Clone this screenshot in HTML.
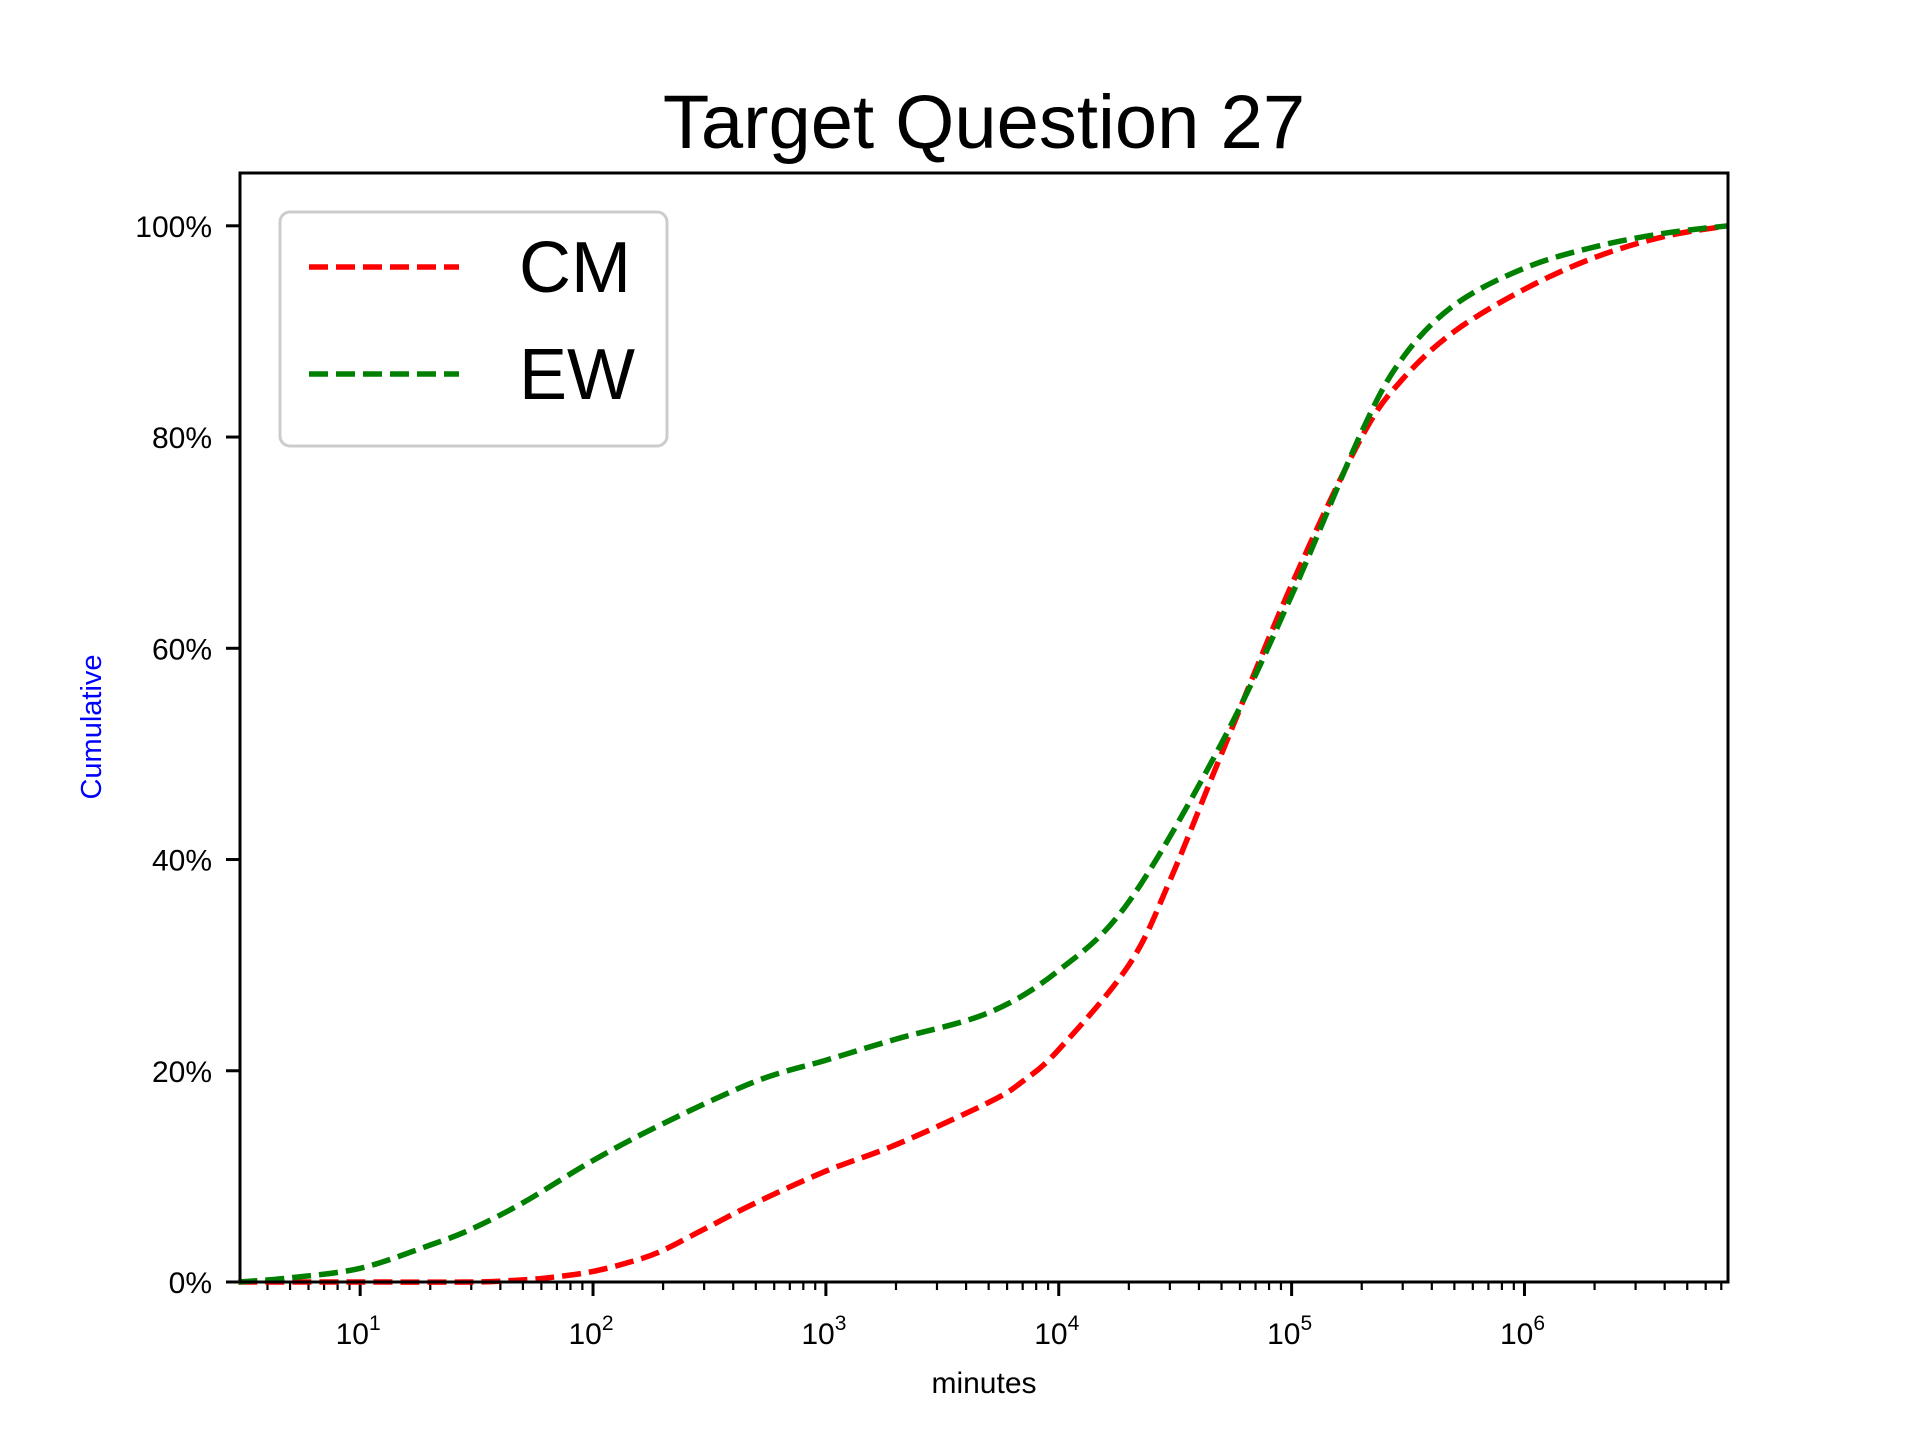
<!DOCTYPE html>
<html><head><meta charset="utf-8">
<style>
html,body{margin:0;padding:0;background:#fff;}
svg{display:block;font-family:"Liberation Sans",sans-serif;}
</style></head>
<body>
<svg id="chart" width="1920" height="1440" viewBox="0 0 1920 1440" xmlns="http://www.w3.org/2000/svg">
<rect x="0" y="0" width="1920" height="1440" fill="#fff"/>
<text x="984" y="148" font-size="76" text-anchor="middle" fill="#000">Target Question 27</text>
<g id="plot"></g>
<text x="984" y="1393" font-size="30" text-anchor="middle" fill="#000">minutes</text>
<text transform="translate(101,727) rotate(-90)" font-size="29" text-anchor="middle" fill="#0000ff">Cumulative</text>
</svg>
<script>
const cmX = [3,10,30,50,70,100,150,200,300,500,1000,2000,5000,7000,10000,20000,30000,50000,100000,200000,300000,500000,1e6,2e6,4e6,7.5e6];
const cmY = [0,0,0,0.2,0.5,1,2,3,5,7.5,10.5,13,17,19,22,30,38,50,66,80,85.5,90,94,97,99,100];
const ewX = [3,5,10,20,30,50,100,200,500,1000,2000,5000,10000,20000,50000,100000,200000,300000,500000,1e6,2e6,4e6,7.5e6];
const ewY = [0,0.4,1.3,3.5,5,7.5,11.5,15,19,21,23,25.5,29.5,36,51,65,80.5,87.5,92.5,96,98,99.3,100];
const yTicks = [0,20,40,60,80,100];
const xTickExps = [1,2,3,4,5,6];

const L=240,R=1728,T=173,B=1282;
const lxMin=0.484,lxMax=6.874,yMin=0,yMax=105;
const sx=v=>L+(Math.log10(v)-lxMin)/(lxMax-lxMin)*(R-L);
const sy=v=>B-(v-yMin)/(yMax-yMin)*(B-T);
const NS="http://www.w3.org/2000/svg";
const g=document.getElementById('plot');
function mk(tag,attrs){const e=document.createElementNS(NS,tag);for(const k in attrs)e.setAttribute(k,attrs[k]);g.appendChild(e);return e;}

yTicks.forEach(v=>{
  const y=sy(v);
  const t=mk('line',{x1:L-14,x2:L,y1:y,y2:y,stroke:'#000','stroke-width':3});
  
  
  const lb=mk('text',{x:L-28,y:y+11,'font-size':30,'text-anchor':'end',fill:'#000'});
  lb.textContent=v+'%';
  
  
});
for(let e=0;e<=6;e++){
  for(let m=1;m<=9;m++){
    const v=m*Math.pow(10,e);
    const lv=Math.log10(v);
    if(lv<lxMin||lv>lxMax)continue;
    const x=sx(v);
    const major=m===1;
    const t=mk('line',{x1:x,x2:x,y1:B,y2:B+(major?14:8),stroke:'#000','stroke-width':major?3:2.2});
    
    
  }
}
xTickExps.forEach(e=>{
  const x=sx(Math.pow(10,e));
  const lb=mk('text',{x:x-2,y:1344,'font-size':30,'text-anchor':'middle',fill:'#000'});
  
  
  const a=document.createElementNS(NS,'tspan');a.textContent='10';lb.appendChild(a);
  const b=document.createElementNS(NS,'tspan');b.setAttribute('dy','-14');b.setAttribute('font-size','21');b.textContent=String(e);lb.appendChild(b);
});
function series(xs,ys,color,name){
  const pts=xs.map((x,i)=>[sx(x),sy(ys[i])]);
  let d='M'+pts[0][0].toFixed(1)+','+pts[0][1].toFixed(1);
  for(let i=0;i<pts.length-1;i++){
    const p0=pts[Math.max(0,i-1)],p1=pts[i],p2=pts[i+1],p3=pts[Math.min(pts.length-1,i+2)];
    const c1x=p1[0]+(p2[0]-p0[0])/6,c1y=p1[1]+(p2[1]-p0[1])/6;
    const c2x=p2[0]-(p3[0]-p1[0])/6,c2y=p2[1]-(p3[1]-p1[1])/6;
    d+=' C'+c1x.toFixed(1)+','+c1y.toFixed(1)+' '+c2x.toFixed(1)+','+c2y.toFixed(1)+' '+p2[0].toFixed(1)+','+p2[1].toFixed(1);
  }
  const p=mk('path',{d:d,fill:'none',stroke:color,'stroke-width':5.5,'stroke-dasharray':'19 8','stroke-linejoin':'round'});
  
  
}
series(cmX,cmY,'#ff0000','cm-line');
series(ewX,ewY,'#008000','ew-line');
const fr=mk('rect',{x:L,y:T,width:R-L,height:B-T,fill:'none',stroke:'#000','stroke-width':3});


const lg=mk('rect',{x:280,y:212,width:387,height:234,rx:10,fill:'#fff','fill-opacity':0.8,stroke:'#cccccc','stroke-width':3});


[['CM','#ff0000',267],['EW','#008000',374]].forEach(([n,c,y])=>{
  const l=mk('line',{x1:309,x2:459,y1:y,y2:y,stroke:c,'stroke-width':5.5,'stroke-dasharray':'19 8'});
  
  
  const t=mk('text',{x:519,y:y+25,'font-size':72,fill:'#000'});
  t.textContent=n;
  
  
});
</script>
</body></html>
